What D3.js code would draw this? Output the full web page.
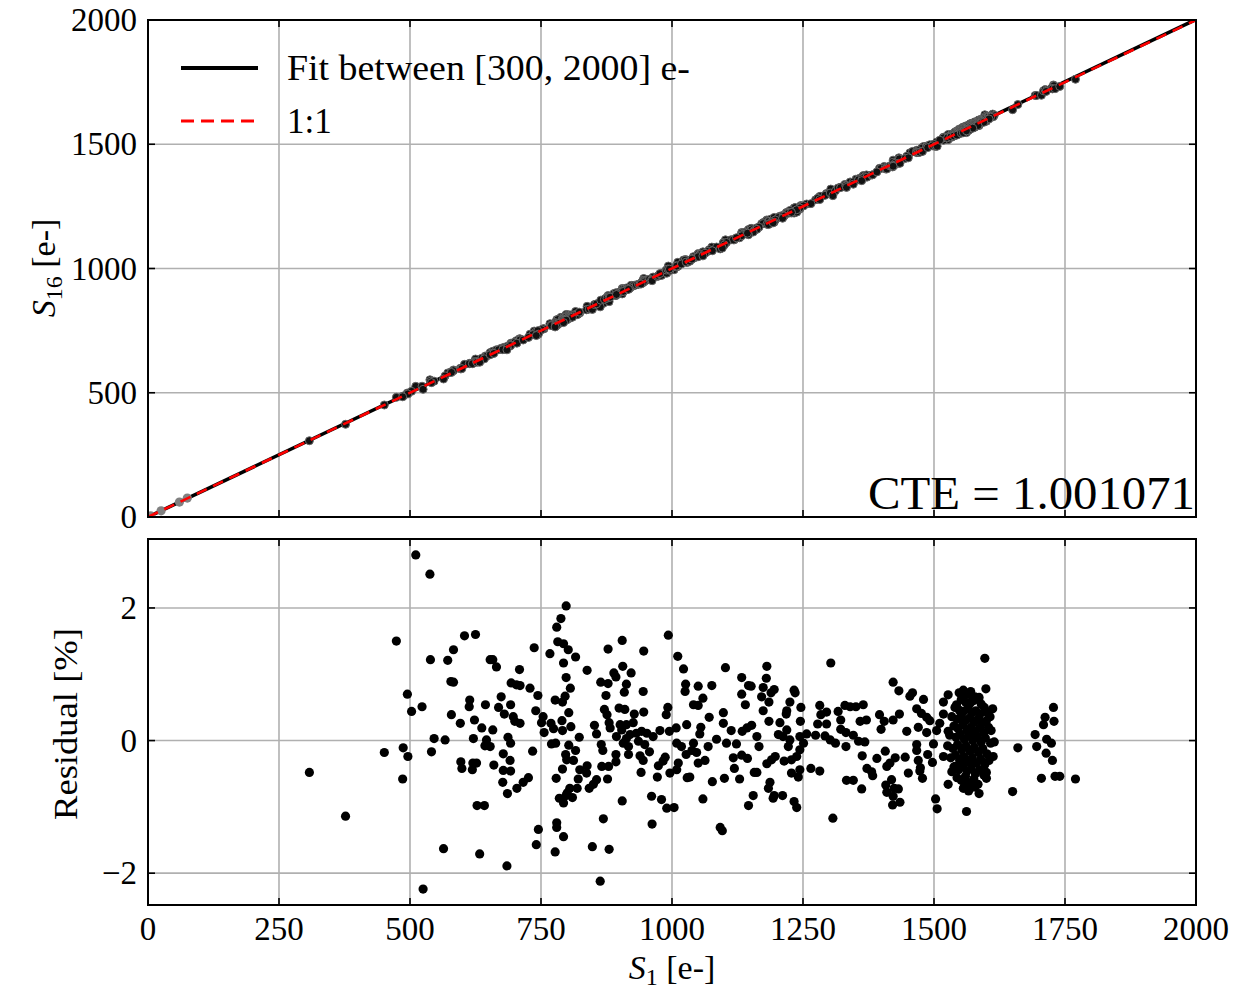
<!DOCTYPE html>
<html>
<head>
<meta charset="utf-8">
<script src="https://cdn.jsdelivr.net/npm/d3@7"></script>
<style>
  html, body { margin: 0; padding: 0; background: #fff; }
  svg { display: block; }
  text { font-family: 'Liberation Serif', 'DejaVu Serif', serif; fill: #000; }
</style>
</head>
<body>
<div id="chart"></div>
<script>
// fit result
var cte = 1.001071;
var fitRange = [300, 2000];

// points below the fit range (grey in the top panel)
var lowS1 = [5, 25, 60, 75];
var lowS16 = [5, 25, 60, 76];

// [S1 (e-), residual (%)]
var residualPoints = [
  [511, 2.80], [538, 2.51], [474, 1.50], [539, 1.22], [572, 1.21], [583, 1.37], [604, 1.58], [625, 1.60],
  [578, 0.89], [583, 0.88], [495, 0.70], [523, 0.51], [503, 0.44], [614, 0.61], [613, 0.51], [644, 0.54],
  [579, 0.39], [596, 0.26], [623, 0.31], [637, 0.19], [546, 0.03], [567, 0.01], [621, 0.03], [643, -0.08],
  [646, 0.01], [451, -0.18], [487, -0.11], [496, -0.24], [541, -0.17], [597, -0.32], [599, -0.42], [620, -0.34],
  [619, -0.44], [627, -0.34], [308, -0.48], [486, -0.58], [377, -1.14], [628, -0.98], [642, -0.98], [564, -1.63],
  [633, -1.71], [525, -2.24], [653, 1.22],
  [798, 2.03], [788, 1.84], [780, 1.71], [782, 1.49], [793, 1.46], [802, 1.37], [816, 1.26], [737, 1.40],
  [767, 1.31], [658, 1.22], [665, 1.11], [709, 1.07], [793, 1.17], [838, 1.06], [905, 1.51], [878, 1.38],
  [946, 1.35], [993, 1.59], [1011, 1.27], [1022, 1.08], [906, 1.12], [889, 1.02], [893, 0.96], [922, 1.02],
  [798, 0.95], [806, 0.79], [796, 0.67], [777, 0.61], [791, 0.58], [803, 0.42], [790, 0.30], [807, 0.21],
  [791, 0.15], [769, 0.26], [774, 0.18], [756, 0.12], [754, 0.36], [751, 0.27], [740, 0.45], [744, 0.68],
  [729, 0.79], [693, 0.87], [703, 0.84], [710, 0.83], [674, 0.66], [669, 0.50], [692, 0.54], [680, 0.40],
  [697, 0.36], [700, 0.29], [710, 0.26], [658, 0.16], [687, 0.05], [692, -0.04], [653, -0.09], [734, -0.16],
  [678, -0.20], [691, -0.30], [660, -0.37], [678, -0.45], [692, -0.46], [677, -0.63], [686, -0.80], [704, -0.72],
  [716, -0.63], [726, -0.56], [770, -0.05], [778, -0.04], [803, -0.07], [816, -0.15], [797, -0.21], [799, -0.29],
  [812, -0.30], [791, -0.43], [779, -0.57], [824, -0.44], [838, -0.38], [837, -0.49], [821, -0.58], [856, -0.59],
  [850, -0.66], [842, -0.72], [819, -0.72], [805, -0.72], [800, -0.79], [785, -0.87], [793, -0.94], [810, -0.86],
  [798, -0.83], [868, -0.15], [865, -0.06], [866, -0.39], [879, -0.39], [893, -0.32], [893, -0.21], [877, -0.58],
  [905, -0.91], [869, -1.18], [848, -1.60], [880, -1.64], [863, -2.12], [745, -1.34], [741, -1.57], [780, -1.24],
  [780, -1.31], [793, -1.45], [777, -1.68], [685, -1.89], [852, 0.23], [856, 0.10], [823, 0.05], [864, 0.88],
  [878, 0.86], [874, 0.68], [871, 0.47], [876, 0.39], [880, 0.27], [882, 0.19], [899, 0.49], [910, 0.47],
  [913, 0.85], [909, 0.73], [901, 0.24], [913, 0.24], [926, 0.27], [928, 0.40], [945, 0.74], [946, 0.43],
  [904, 0.16], [894, 0.06], [913, 0.03], [920, 0.09], [932, 0.11], [942, 0.14], [952, 0.11], [964, 0.06],
  [907, -0.04], [917, -0.09], [917, -0.21], [936, -0.01], [948, -0.06], [957, -0.17], [939, -0.23], [945, -0.30],
  [941, -0.48], [961, -0.84], [962, -1.26], [972, -0.55], [974, -0.38], [983, -0.31], [987, -0.25], [980, -0.89],
  [990, -1.02], [1004, -1.01], [996, -0.49], [1009, -0.44], [1012, -0.34], [977, 0.15], [989, 0.39], [992, 0.50],
  [995, 0.14], [1008, 0.19], [1028, 0.24], [1026, 0.85], [1025, 0.74], [1029, -0.56], [1009, -0.04], [1018, -0.09],
  [1027, -0.21],
  [1102, 1.10], [1181, 1.12], [1303, 1.17], [1050, 0.82], [1076, 0.83], [1059, 0.64], [1041, 0.54], [1050, 0.53],
  [1133, 0.95], [1146, 0.83], [1151, 0.82], [1133, 0.70], [1140, 0.54], [1180, 0.94], [1174, 0.80], [1171, 0.66],
  [1185, 0.58], [1189, 0.72], [1195, 0.77], [1174, 0.45], [1185, 0.29], [1098, 0.42], [1098, 0.26], [1113, 0.15],
  [1071, 0.35], [1055, 0.20], [1053, 0.10], [1134, 0.14], [1143, 0.19], [1152, 0.23], [1162, 0.06], [1166, -0.09],
  [1233, 0.76], [1235, 0.72], [1225, 0.58], [1219, 0.45], [1218, 0.40], [1206, 0.27], [1219, 0.16], [1203, 0.09],
  [1212, 0.06], [1246, 0.50], [1245, 0.29], [1244, 0.06], [1225, 0.01], [1222, -0.09], [1257, 0.10], [1274, 0.08],
  [1282, 0.53], [1284, 0.39], [1295, 0.43], [1278, 0.25], [1295, 0.25], [1292, 0.07], [1302, 0.01], [1312, -0.04],
  [1317, 0.44], [1330, 0.53], [1340, 0.51], [1351, 0.51], [1365, 0.54], [1322, 0.31], [1322, 0.17], [1332, 0.12],
  [1346, 0.08], [1359, 0.29], [1371, 0.31], [1396, 0.39], [1405, 0.29], [1399, 0.17], [1356, -0.01], [1368, -0.02],
  [1332, -0.09], [1363, -0.23], [1372, -0.42], [1381, -0.47], [1383, -0.53], [1391, -0.27], [1407, -0.16], [1410, -0.39],
  [1408, -0.67], [1410, -0.78], [1333, -0.60], [1346, -0.60], [1362, -0.73], [1307, -1.17], [1265, -0.42], [1282, -0.46],
  [1244, -0.44], [1228, -0.49], [1241, -0.55], [1233, -0.92], [1238, -1.01], [1251, -0.04], [1244, -0.14], [1238, -0.24],
  [1228, -0.29], [1214, -0.31], [1197, -0.24], [1190, -0.29], [1181, -0.35], [1187, -0.63], [1184, -0.72], [1195, -0.83],
  [1211, -0.83], [1193, -0.87], [1157, -0.48], [1162, -0.48], [1155, -0.83], [1146, -0.98], [1129, -0.58], [1119, -0.42],
  [1117, -0.26], [1133, -0.22], [1144, -0.27], [1123, -0.05], [1104, -0.04], [1069, -0.09], [1085, 0.02], [1047, -0.18],
  [1041, -0.04], [1050, -0.34], [1063, -0.30], [1034, -0.55], [1077, -0.62], [1100, -0.57], [1059, -0.88], [1092, -1.31],
  [1096, -1.36], [1038, -0.15],
  [1597, 1.24], [1422, 0.88], [1433, 0.75], [1454, 0.67], [1459, 0.72], [1480, 0.62], [1467, 0.48], [1476, 0.41],
  [1486, 0.35], [1492, 0.30], [1434, 0.40], [1422, 0.31], [1448, 0.14], [1470, 0.20], [1486, 0.12], [1505, 0.15],
  [1499, -0.05], [1467, -0.06], [1467, -0.15], [1445, -0.25], [1426, -0.26], [1416, -0.34], [1470, -0.30], [1474, -0.41],
  [1473, -0.46], [1451, -0.49], [1478, -0.57], [1488, -0.21], [1497, -0.33], [1419, -0.59], [1424, -0.72], [1432, -0.73],
  [1435, -0.93], [1421, -0.97], [1422, -0.84], [1503, -0.88], [1506, -1.03], [1562, -1.07], [1527, -0.66], [1518, -0.24],
  [1527, 0.69], [1518, 0.58], [1518, 0.40], [1511, 0.26], [1527, 0.14], [1543, 0.54], [1556, 0.72], [1569, 0.69],
  [1586, 0.65], [1599, 0.78], [1612, 0.48], [1607, 0.36], [1609, 0.15], [1615, -0.02], [1613, -0.24], [1600, -0.48],
  [1600, -0.57], [1586, -0.80], [1578, -0.70], [1557, -0.62], [1540, -0.39], [1534, -0.47], [1550, -0.40],
  [1548, 0.72], [1556, 0.76], [1562, 0.70], [1570, 0.74], [1578, 0.66], [1585, 0.62], [1552, 0.62], [1560, 0.58],
  [1568, 0.55], [1575, 0.60], [1590, 0.55], [1596, 0.50], [1540, 0.50], [1548, 0.46], [1556, 0.44], [1564, 0.48],
  [1572, 0.42], [1580, 0.45], [1588, 0.40], [1602, 0.42], [1534, 0.36], [1544, 0.32], [1552, 0.38], [1560, 0.30],
  [1568, 0.34], [1576, 0.28], [1584, 0.33], [1592, 0.27], [1600, 0.30], [1538, 0.22], [1546, 0.18], [1555, 0.24],
  [1563, 0.16], [1571, 0.20], [1579, 0.14], [1587, 0.19], [1595, 0.12], [1604, 0.20], [1530, 0.08], [1542, 0.05],
  [1550, 0.10], [1558, 0.02], [1566, 0.08], [1574, 0.00], [1582, 0.06], [1590, -0.02], [1598, 0.04], [1608, -0.04],
  [1526, -0.08], [1536, -0.12], [1545, -0.06], [1553, -0.14], [1561, -0.08], [1569, -0.16], [1577, -0.10], [1585, -0.18],
  [1593, -0.12], [1601, -0.20], [1532, -0.26], [1541, -0.22], [1549, -0.30], [1557, -0.24], [1565, -0.32], [1573, -0.26],
  [1581, -0.34], [1589, -0.28], [1597, -0.36], [1605, -0.30], [1538, -0.40], [1547, -0.44], [1555, -0.38], [1563, -0.46],
  [1571, -0.42], [1579, -0.50], [1587, -0.44], [1595, -0.52], [1544, -0.56], [1552, -0.60], [1560, -0.54], [1568, -0.64],
  [1576, -0.58], [1584, -0.66], [1556, -0.72], [1566, -0.76], [1574, -0.70], [1562, -0.62],
  [1660, -0.11], [1650, -0.77], [1693, 0.09], [1696, -0.09], [1705, -0.57], [1709, 0.24], [1712, 0.35], [1728, 0.50],
  [1729, 0.29], [1715, 0.02], [1724, -0.04], [1714, -0.19], [1726, -0.30], [1731, -0.54], [1740, -0.54], [1770, -0.58]
];

var xTicks = [0, 250, 500, 750, 1000, 1250, 1500, 1750, 2000];
var topYTicks = [0, 500, 1000, 1500, 2000];
var resYTicks = [-2, 0, 2];

var W = 1234, H = 993;
var left = 148, right = 1196;
var topPanel = { top: 20, bottom: 517 };
var resPanel = { top: 539, bottom: 905 };

var svg = d3.select('#chart').append('svg').attr('width', W).attr('height', H);

var x = d3.scaleLinear().domain([0, 2000]).range([left, right]);
var yTop = d3.scaleLinear().domain([0, 2000]).range([topPanel.bottom, topPanel.top]);
var yRes = d3.scaleLinear().domain([-2.48, 3.04]).range([resPanel.bottom, resPanel.top]);

function fit(v) { return cte * v; }

svg.append('defs').selectAll('clipPath')
  .data([['clipTop', topPanel], ['clipRes', resPanel]]).enter()
  .append('clipPath').attr('id', function (d) { return d[0]; })
  .append('rect')
  .attr('x', left).attr('y', function (d) { return d[1].top; })
  .attr('width', right - left)
  .attr('height', function (d) { return d[1].bottom - d[1].top; });

function panel(p, yScale, yTicks, clipId) {
  var g = svg.append('g');
  // grid
  g.selectAll('line.gx').data(xTicks).enter().append('line')
    .attr('x1', function (d) { return x(d); }).attr('x2', function (d) { return x(d); })
    .attr('y1', p.top).attr('y2', p.bottom)
    .attr('stroke', '#b0b0b0').attr('stroke-width', 1.6);
  g.selectAll('line.gy').data(yTicks).enter().append('line')
    .attr('x1', left).attr('x2', right)
    .attr('y1', function (d) { return yScale(d); }).attr('y2', function (d) { return yScale(d); })
    .attr('stroke', '#b0b0b0').attr('stroke-width', 1.6);
  var plot = svg.append('g').attr('clip-path', 'url(#' + clipId + ')');
  return { g: g, plot: plot };
}

function frame(p, yScale, yTicks) {
  var g = svg.append('g');
  var tl = 7;
  xTicks.forEach(function (t) {
    g.append('line').attr('x1', x(t)).attr('x2', x(t)).attr('y1', p.bottom).attr('y2', p.bottom - tl)
      .attr('stroke', '#000').attr('stroke-width', 1.6);
    g.append('line').attr('x1', x(t)).attr('x2', x(t)).attr('y1', p.top).attr('y2', p.top + tl)
      .attr('stroke', '#000').attr('stroke-width', 1.6);
  });
  yTicks.forEach(function (t) {
    g.append('line').attr('x1', left).attr('x2', left + tl).attr('y1', yScale(t)).attr('y2', yScale(t))
      .attr('stroke', '#000').attr('stroke-width', 1.6);
    g.append('line').attr('x1', right).attr('x2', right - tl).attr('y1', yScale(t)).attr('y2', yScale(t))
      .attr('stroke', '#000').attr('stroke-width', 1.6);
    g.append('text').attr('x', left - 11).attr('y', yScale(t) + 11)
      .attr('text-anchor', 'end').attr('font-size', '33px')
      .text(t < 0 ? '\u2212' + Math.abs(t) : t);
  });
  g.append('rect').attr('x', left).attr('y', p.top)
    .attr('width', right - left).attr('height', p.bottom - p.top)
    .attr('fill', 'none').attr('stroke', '#000').attr('stroke-width', 2);
}

// ---- top panel ----
var tp = panel(topPanel, yTop, topYTicks, 'clipTop');

tp.plot.append('line')
  .attr('x1', x(0)).attr('y1', yTop(fit(0)))
  .attr('x2', x(2000)).attr('y2', yTop(fit(2000)))
  .attr('stroke', '#000').attr('stroke-width', 3.5);

tp.plot.selectAll('circle.low').data(lowS1).enter().append('circle')
  .attr('cx', function (d) { return x(d); })
  .attr('cy', function (d, i) { return yTop(lowS16[i]); })
  .attr('r', 4.6).attr('fill', '#808080');

tp.plot.selectAll('circle.pt').data(residualPoints).enter().append('circle')
  .attr('cx', function (d) { return x(d[0]); })
  .attr('cy', function (d) { return yTop(fit(d[0]) * (1 + d[1] / 100)); })
  .attr('r', 4).attr('fill', '#111').attr('stroke', '#666').attr('stroke-width', 1);

tp.plot.append('line')
  .attr('x1', x(0)).attr('y1', yTop(0))
  .attr('x2', x(2000)).attr('y2', yTop(2000))
  .attr('stroke', '#ff0000').attr('stroke-width', 2.6)
  .attr('stroke-dasharray', '11,7');

frame(topPanel, yTop, topYTicks);

// legend
var leg = svg.append('g');
leg.append('line').attr('x1', 181).attr('x2', 258).attr('y1', 68).attr('y2', 68)
  .attr('stroke', '#000').attr('stroke-width', 4);
leg.append('line').attr('x1', 181).attr('x2', 258).attr('y1', 121).attr('y2', 121)
  .attr('stroke', '#ff0000').attr('stroke-width', 3).attr('stroke-dasharray', '13,7');
leg.append('text').attr('x', 287).attr('y', 80).attr('font-size', '35px')
  .attr('textLength', 403).attr('lengthAdjust', 'spacingAndGlyphs')
  .text('Fit between [' + fitRange[0] + ', ' + fitRange[1] + '] e-');
leg.append('text').attr('x', 287).attr('y', 133).attr('font-size', '35px').text('1:1');

svg.append('text').attr('x', 1195).attr('y', 509).attr('text-anchor', 'end')
  .attr('font-size', '47px')
  .attr('textLength', 327).attr('lengthAdjust', 'spacingAndGlyphs')
  .text('CTE = ' + cte.toFixed(6));

// y label top
var yl = svg.append('text').attr('transform', 'translate(55,268) rotate(-90)')
  .attr('text-anchor', 'middle').attr('font-size', '34px');
yl.append('tspan').attr('font-style', 'italic').text('S');
yl.append('tspan').attr('font-size', '24px').attr('dy', 7).text('16');
yl.append('tspan').attr('dy', -7).text(' [e-]');

// ---- residual panel ----
var rp = panel(resPanel, yRes, resYTicks, 'clipRes');

rp.plot.selectAll('circle').data(residualPoints).enter().append('circle')
  .attr('cx', function (d) { return x(d[0]); })
  .attr('cy', function (d) { return yRes(d[1]); })
  .attr('r', 4.6).attr('fill', '#000');

frame(resPanel, yRes, resYTicks);

svg.append('g').selectAll('text').data(xTicks).enter().append('text')
  .attr('x', function (d) { return x(d); }).attr('y', 940)
  .attr('text-anchor', 'middle').attr('font-size', '33px')
  .text(function (d) { return d; });

svg.append('text').attr('transform', 'translate(77,724) rotate(-90)')
  .attr('text-anchor', 'middle').attr('font-size', '34px')
  .attr('textLength', 192).attr('lengthAdjust', 'spacingAndGlyphs')
  .text('Residual [%]');

var xl = svg.append('text').attr('x', 672).attr('y', 979)
  .attr('text-anchor', 'middle').attr('font-size', '34px');
xl.append('tspan').attr('font-style', 'italic').text('S');
xl.append('tspan').attr('font-size', '24px').attr('dy', 6).text('1');
xl.append('tspan').attr('dy', -6).text(' [e-]');
</script>
</body>
</html>
